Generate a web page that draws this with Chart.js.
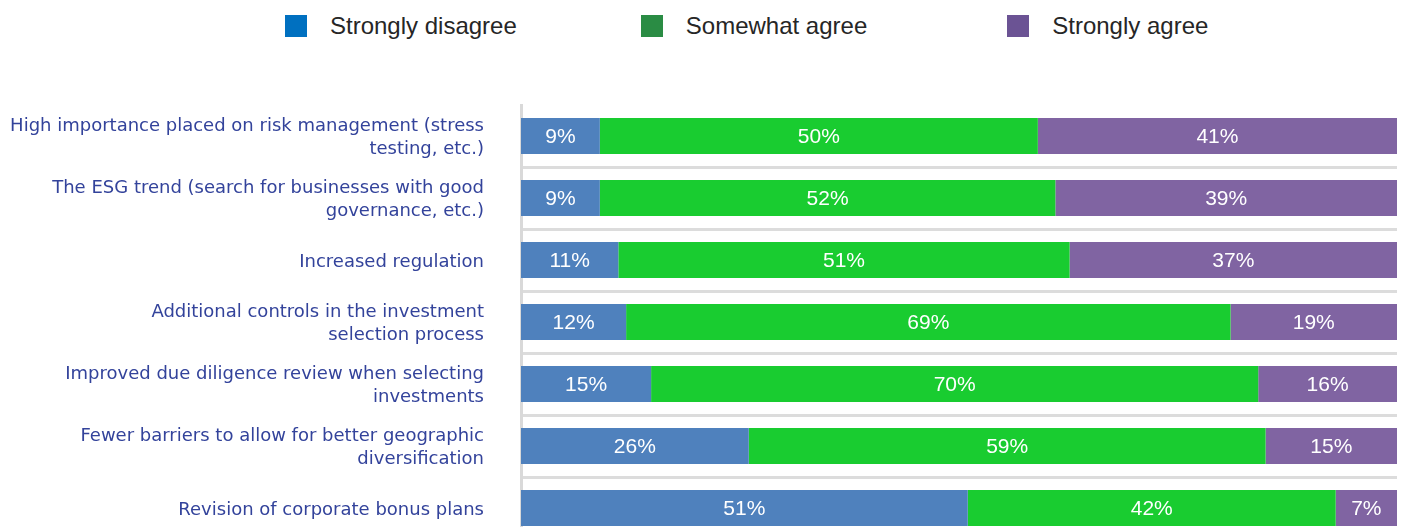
<!DOCTYPE html>
<html>
<head>
<meta charset="utf-8">
<script src="https://cdn.jsdelivr.net/npm/chart.js@4"></script>
<style>
    html, body { margin: 0; padding: 0; background: #fff; overflow: hidden; }
    body { width: 1408px; height: 527px; position: relative; }
    #legend {
        position: absolute; top: 12px; left: 285px;
        display: flex; align-items: center;
        font-family: "Liberation Sans", Arial, sans-serif; font-size: 24px; color: #262626;
    }
    .item { display: flex; align-items: center; }
    .item + .item { margin-left: 124px; }
    .item:last-child { margin-left: 140px; }
    .box { width: 22px; height: 22px; margin-right: 23px; }
    #surveyChart { position: absolute; top: 0; left: 0; }
</style>
</head>
<body>
<div id="legend"></div>
<canvas id="surveyChart" width="1408" height="545"></canvas>
<script>
// Categorias e respostas (%)
const categories = [
    ['High importance placed on risk management (stress', 'testing, etc.)'],
    ['The ESG trend (search for businesses with good', 'governance, etc.)'],
    'Increased regulation',
    ['Additional controls in the investment', 'selection process'],
    ['Improved due diligence review when selecting', 'investments'],
    ['Fewer barriers to allow for better geographic', 'diversification'],
    'Revision of corporate bonus plans'
];
const stronglyDisagree = [9, 9, 11, 12, 15, 26, 51];
const somewhatAgree = [50, 52, 51, 69, 70, 59, 42];
const stronglyAgree = [41, 39, 37, 19, 16, 15, 7];

const seriesNames = ['Strongly disagree', 'Somewhat agree', 'Strongly agree'];
const barColors = ['#4F81BD', '#19CC30', '#8064A2'];
const legendColors = ['#0070C0', '#2A8C44', '#6B5394'];

// Cada barra ocupa 100% (normaliza o total da linha)
const raw = [stronglyDisagree, somewhatAgree, stronglyAgree];
const totals = categories.map((_, i) => raw.reduce((s, arr) => s + arr[i], 0));
const shares = raw.map(arr => arr.map((v, i) => v / totals[i] * 100));

// Legenda em HTML
const legendEl = document.getElementById('legend');
seriesNames.forEach((name, i) => {
    legendEl.innerHTML += `<div class="item"><div class="box" style="background:${legendColors[i]}"></div>${name}</div>`;
});

// Plugin simples para escrever os valores dentro das barras
const barLabels = {
    id: 'barLabels',
    afterDatasetsDraw(chart) {
        const ctx = chart.ctx;
        ctx.save();
        ctx.font = '21px "Liberation Sans", Arial, sans-serif';
        ctx.fillStyle = '#ffffff';
        ctx.textAlign = 'center';
        ctx.textBaseline = 'middle';
        chart.data.datasets.forEach((ds, di) => {
            chart.getDatasetMeta(di).data.forEach((bar, i) => {
                const x = (bar.x + bar.base) / 2;
                ctx.fillText(raw[di][i] + '%', x, bar.y + 1);
            });
        });
        ctx.restore();
    }
};

const ctx = document.getElementById('surveyChart').getContext('2d');
new Chart(ctx, {
    type: 'bar',
    data: {
        labels: categories,
        datasets: seriesNames.map((name, i) => ({
            label: name,
            data: shares[i],
            backgroundColor: barColors[i],
            borderWidth: 0,
            categoryPercentage: 1,
            barPercentage: 0.58
        }))
    },
    options: {
        indexAxis: 'y',
        responsive: false,
        animation: false,
        layout: { padding: { top: 105, right: 11, bottom: 6, left: 0 } },
        scales: {
            x: { stacked: true, min: 0, max: 100, display: false },
            y: {
                stacked: true,
                afterFit(scale) {
                    // largura fixa do eixo e sem folga extra em cima/embaixo
                    scale.width = 521;
                    scale.paddingTop = 0;
                    scale.paddingBottom = 0;
                },
                grid: {
                    offset: true,
                    drawTicks: false,
                    color: c => c.index === 0 ? 'rgba(0,0,0,0)' : '#dcdcdc',
                    lineWidth: 3
                },
                border: { color: '#d9d9d9', width: 3 },
                ticks: {
                    padding: 37,
                    labelOffset: 2,
                    color: '#33439b',
                    font: { family: '"DejaVu Sans", sans-serif', size: 18, lineHeight: 1.28 }
                }
            }
        },
        plugins: {
            legend: { display: false },
            tooltip: { enabled: false }
        }
    },
    plugins: [barLabels]
});
</script>
</body>
</html>
